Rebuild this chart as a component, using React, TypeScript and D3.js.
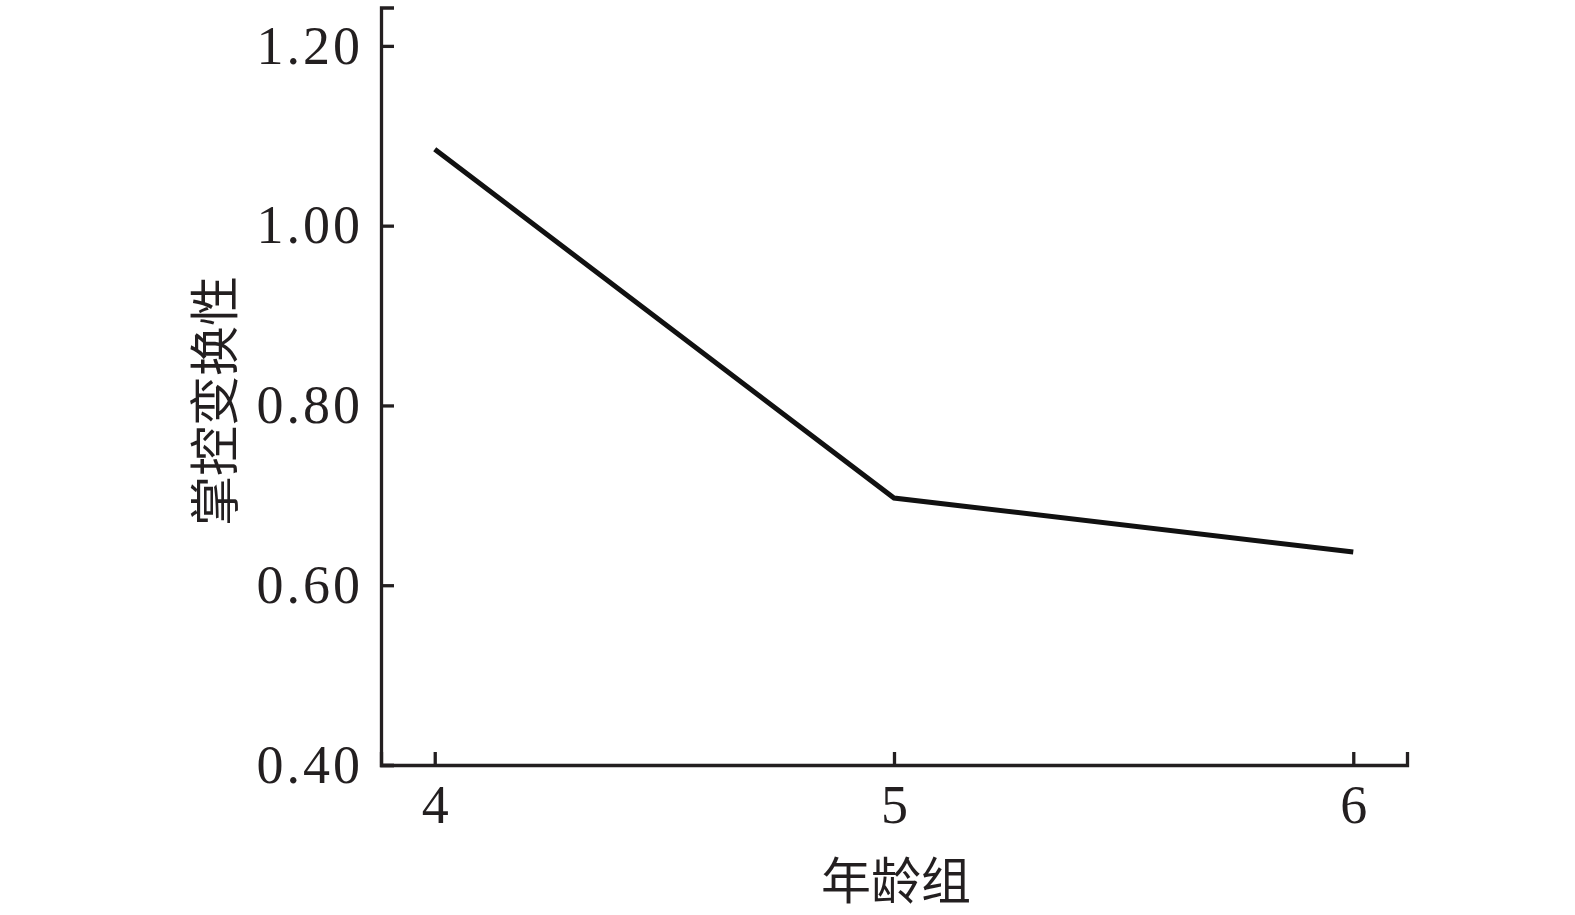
import React, { useRef, useEffect } from "react";
import * as d3 from "d3";

const ages = [4, 5, 6];
const values = [1.085, 0.697, 0.637];
const yTicks = [0.4, 0.6, 0.8, 1.0, 1.2];
const xTitle = "年龄组";
const yTitle = "掌控变换性";

const width = 1575;
const height = 915;
const ink = "#231f20";
const serif = "'Liberation Serif', 'Times New Roman', serif";
const cjk = "'Noto Sans CJK SC', sans-serif";

const App = () => {
  const svgRef = useRef<SVGSVGElement>(null);

  useEffect(() => {
    document.body.style.margin = "0";
    const svg = d3.select(svgRef.current);
    svg.selectAll("*").remove();

    const x = d3.scaleLinear().domain([3.883, 6.117]).range([381, 1407]);
    const y = d3.scaleLinear().domain([0.4, 1.2427]).range([765, 7.5]);

    const yAxis = d3
      .axisLeft(y)
      .tickValues(yTicks)
      .tickFormat(d3.format(".2f"))
      .tickSizeInner(-13)
      .tickSizeOuter(-13)
      .tickPadding(18);

    const xAxis = d3
      .axisBottom(x)
      .tickValues(ages)
      .tickFormat(d3.format("d"))
      .tickSizeInner(-13)
      .tickSizeOuter(-13)
      .tickPadding(20);

    const styleAxis = (g, spacing) => {
      g.selectAll("path, line").attr("stroke", ink).attr("stroke-width", 3.3);
      g.select(".domain").attr("fill", "none");
      g.selectAll("text")
        .attr("fill", ink)
        .style("font-family", serif)
        .style("font-size", "54px")
        .style("letter-spacing", spacing);
    };

    svg
      .append("g")
      .attr("transform", `translate(0, ${y(0.4)})`)
      .call(xAxis)
      .call(styleAxis, "0px");

    svg
      .append("g")
      .attr("transform", `translate(${x.range()[0]}, 0)`)
      .call(yAxis)
      .call(styleAxis, "3px");

    const line = d3
      .line<number>()
      .x((d, i) => x(ages[i]))
      .y((d) => y(d));

    svg
      .append("path")
      .datum(values)
      .attr("fill", "none")
      .attr("stroke", "#111")
      .attr("stroke-width", 5)
      .attr("d", line);

    svg
      .append("text")
      .attr("x", 896)
      .attr("y", 877)
      .attr("text-anchor", "middle")
      .attr("dominant-baseline", "central")
      .attr("fill", ink)
      .style("font-family", cjk)
      .style("font-size", "50px")
      .text(xTitle);

    svg
      .append("text")
      .attr("transform", "translate(211, 401) rotate(-90)")
      .attr("text-anchor", "middle")
      .attr("dominant-baseline", "central")
      .attr("fill", ink)
      .style("font-family", cjk)
      .style("font-size", "50px")
      .text(yTitle);
  }, []);

  return (
    <div>
      <svg
        ref={svgRef}
        width={width}
        height={height}
        style={{ display: "block", background: "#fff" }}
      />
    </div>
  );
};

export default App;
